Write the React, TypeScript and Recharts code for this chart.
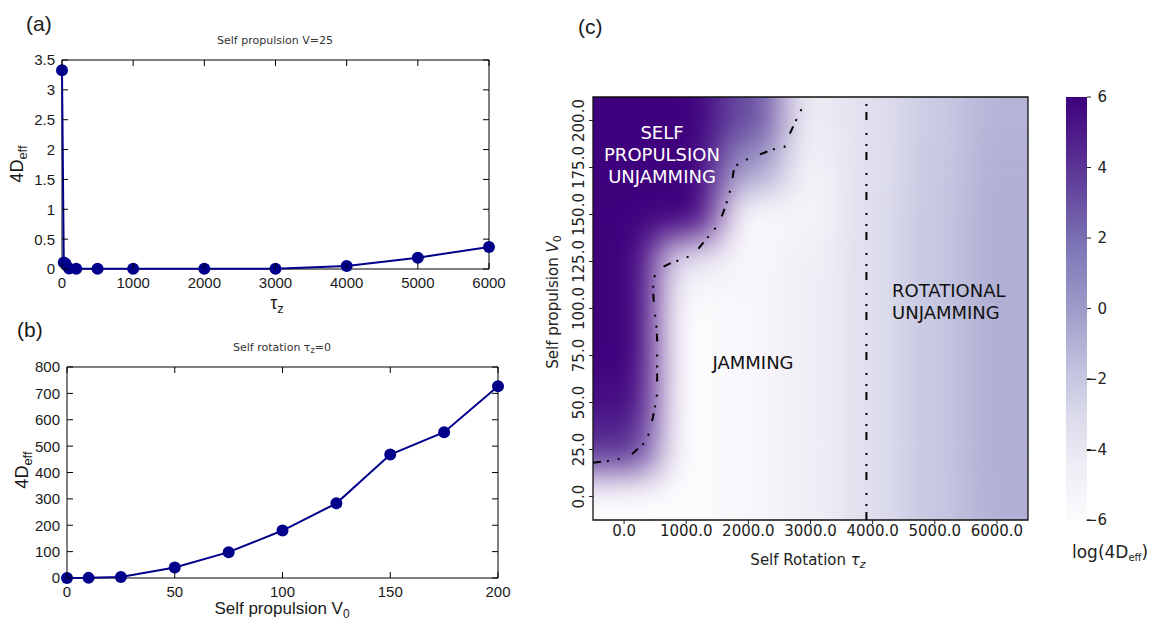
import React from 'react';
import { LineChart, Line, XAxis, YAxis, ReferenceArea, BarChart, Bar } from 'recharts';

// ---------- Panel (a): Self propulsion V=25 ----------
const tauA = [0, 25, 50, 100, 200, 500, 1000, 2000, 3000, 4000, 5000, 6000];
const deffA = [3.33, 0.11, 0.09, 0.01, 0.005, 0.003, 0.003, 0.004, 0.005, 0.05, 0.19, 0.37];
const ticksAX = [0, 1000, 2000, 3000, 4000, 5000, 6000];
const ticksAY = [0, 0.5, 1, 1.5, 2, 2.5, 3, 3.5];

// ---------- Panel (b): Self rotation tau_z = 0 ----------
const v0B = [0, 10, 25, 50, 75, 100, 125, 150, 175, 200];
const deffB = [0, 0.5, 4, 40, 98, 180, 283, 468, 553, 727];
const ticksBX = [0, 50, 100, 150, 200];
const ticksBY = [0, 100, 200, 300, 400, 500, 600, 700, 800];

// ---------- Panel (c): heat map of log(4 D_eff) ----------
const heatTau = [0, 1000, 2000, 3000, 4000, 5000, 6000];
const heatV = [0, 25, 50, 75, 100, 125, 150, 175, 200];
const logDeffV0 = [-6, -6, -5.6, -4.6, -3.3, -2.0, -1.0];
const logDeffV25 = [4, -6, -5.6, -4.6, -3.3, -2.0, -0.9];
const logDeffV50 = [5.5, -6, -5.6, -4.6, -3.3, -2.0, -0.9];
const logDeffV75 = [6, -6, -5.6, -4.6, -3.3, -2.0, -0.9];
const logDeffV100 = [6, -6, -5.6, -4.6, -3.3, -2.0, -0.9];
const logDeffV125 = [6, -4, -5.6, -4.7, -3.3, -2.0, -0.9];
const logDeffV150 = [6, 6, -5.8, -5.2, -3.3, -2.0, -0.9];
const logDeffV175 = [6, 6, 0, -5.0, -3.4, -2.1, -1.0];
const logDeffV200 = [6, 6, 3, -4.4, -3.4, -2.2, -1.1];
const logDeffGrid = [logDeffV0, logDeffV25, logDeffV50, logDeffV75, logDeffV100, logDeffV125, logDeffV150, logDeffV175, logDeffV200];
const heatTicksX = [0, 1000, 2000, 3000, 4000, 5000, 6000];
const heatTicksY = [0, 25, 50, 75, 100, 125, 150, 175, 200];

// jamming boundary (dash-dot contour)
const contourTau = [-500, -274, -85, 140, 318, 408, 463, 505, 532, 532, 532, 532, 516, 484, 470, 468, 532, 742, 968, 1129, 1290, 1452, 1548, 1629, 1694, 1742, 1774, 1952, 2113, 2387, 2581, 2661, 2758, 2855, 2930];
const contourV = [18, 18.8, 20, 22.9, 28.2, 33.9, 41.9, 48.9, 55, 63, 71, 83.5, 93, 99.5, 108, 115, 120.7, 124, 126.6, 129, 135.6, 142, 147, 154, 161, 168.6, 175.5, 179, 181, 184.6, 186, 192.5, 199.5, 206, 212.5];
// rotational unjamming boundary
const rotBoundaryTau = [3900, 3900];
const rotBoundaryV = [-12.5, 212.5];

// colour bar
const cbarRange = [-6, 6];
const cbarTicks = [-6, -4, -2, 0, 2, 4, 6];

const PURPLES = ['#fcfbfd', '#efedf5', '#dadaeb', '#bcbddc', '#9e9ac8', '#807dba', '#6a51a3', '#54278f', '#3f007d'];

function hexToRgb(h: string) {
  return [parseInt(h.slice(1, 3), 16), parseInt(h.slice(3, 5), 16), parseInt(h.slice(5, 7), 16)];
}
function purples(v: number) {
  const t = Math.max(0, Math.min(1, (v - cbarRange[0]) / (cbarRange[1] - cbarRange[0]))) * (PURPLES.length - 1);
  const i = Math.min(PURPLES.length - 2, Math.floor(t));
  const f = t - i;
  const a = hexToRgb(PURPLES[i]);
  const b = hexToRgb(PURPLES[i + 1]);
  const c = a.map((x, k) => Math.round(x + (b[k] - x) * f));
  return `rgb(${c[0]},${c[1]},${c[2]})`;
}

const GP_FONT = 'Liberation Sans, Arial, sans-serif';
const MPL_FONT = 'DejaVu Sans, sans-serif';
const NAVY = '#00008b';
const GP_TICK_LEN = 6;
const GP_GAP_X = 8; // gap between frame and bottom tick labels
const GP_GAP_Y = 7; // gap between frame and left tick labels

// gnuplot-style ticks: short marks pointing into the frame, labels outside
const GpBottomTick = (props: any) => {
  const { x, y, payload } = props;
  const yf = y - GP_GAP_X;
  return (
    <g>
      <line x1={x} x2={x} y1={yf} y2={yf - GP_TICK_LEN} stroke="#000" strokeWidth={1} />
      <text x={x} y={y} dy="0.72em" textAnchor="middle" fontSize={15} fontFamily={GP_FONT} fill="#1a1a1a">{payload.value}</text>
    </g>
  );
};
const GpLeftTick = (props: any) => {
  const { x, y, payload } = props;
  const xf = x + GP_GAP_Y;
  return (
    <g>
      <line x1={xf} x2={xf + GP_TICK_LEN} y1={y} y2={y} stroke="#000" strokeWidth={1} />
      <text x={x} y={y} dy="0.36em" textAnchor="end" fontSize={15} fontFamily={GP_FONT} fill="#1a1a1a">{payload.value}</text>
    </g>
  );
};
const GpTopTick = (props: any) => {
  const { x, y } = props;
  return <line x1={x} x2={x} y1={y} y2={y + GP_TICK_LEN} stroke="#000" strokeWidth={1} />;
};
const GpRightTick = (props: any) => {
  const { x, y } = props;
  return <line x1={x} x2={x - GP_TICK_LEN} y1={y} y2={y} stroke="#000" strokeWidth={1} />;
};

const RotYTick = (props: any) => {
  const { x, y, payload } = props;
  return (
    <text x={x} y={y} transform={`rotate(-90 ${x} ${y})`} textAnchor="middle" fontSize={15} fontFamily={MPL_FONT} fill="#222">
      {Number(payload.value).toFixed(1)}
    </text>
  );
};

const CbarTick = (props: any) => {
  const { x, y, payload } = props;
  const v = Number(payload.value);
  const s = v < 0 ? '\u2212' + Math.abs(v) : String(v);
  return (
    <text x={x} y={y} dy="0.36em" textAnchor="end" fontSize={15} fontFamily={MPL_FONT} fill="#222">
      {s}
    </text>
  );
};

export default function App() {
  const dataA = tauA.map((t, i) => ({ tau: t, d: deffA[i] }));
  const dataB = v0B.map((v, i) => ({ v, d: deffB[i] }));
  const contour = contourTau.map((t, i) => ({ tau: t, v: contourV[i] }));
  const rotLine = rotBoundaryTau.map((t, i) => ({ tau: t, v: rotBoundaryV[i] }));

  const dT = heatTau[1] - heatTau[0];
  const dV = heatV[1] - heatV[0];
  const cells: { key: string; x1: number; x2: number; y1: number; y2: number; fill: string }[] = [];
  const cellPoints: { tau: number; v: number }[] = [];
  heatV.forEach((v, i) => {
    heatTau.forEach((t, j) => {
      let x1 = t - dT / 2;
      let x2 = t + dT / 2;
      let y1 = v - dV / 2;
      let y2 = v + dV / 2;
      // stretch border cells outward so the smoothing has no fade at the frame
      if (j === 0) x1 -= 2 * dT;
      if (j === heatTau.length - 1) x2 += 2 * dT;
      if (i === 0) y1 -= 2 * dV;
      if (i === heatV.length - 1) y2 += 2 * dV;
      cells.push({ key: `${i}-${j}`, x1, x2, y1, y2, fill: purples(logDeffGrid[i][j]) });
      cellPoints.push({ tau: t, v });
    });
  });

  const cbarData = [{ name: 'cb', range: cbarRange }];

  return (
    <div style={{ position: 'absolute', left: 0, top: 0, width: 1153, height: 622, background: '#fff', overflow: 'hidden' }}>
      {/* Panel (c): smoothed heat map layer, clipped to the plot frame */}
      <div style={{ position: 'absolute', left: 593, top: 97, width: 435, height: 423, overflow: 'hidden' }}>
        <div style={{ position: 'absolute', left: -80, top: -80, filter: 'blur(18px)' }}>
          <LineChart width={595} height={583} data={cellPoints} margin={{ top: 80, right: 80, bottom: 80, left: 80 }}>
            <XAxis type="number" dataKey="tau" domain={[-500, 6500]} allowDataOverflow tick={false} tickLine={false} axisLine={false} height={1} />
            <YAxis type="number" domain={[-12.5, 212.5]} allowDataOverflow tick={false} tickLine={false} axisLine={false} width={1} />
            {cells.map((c) => (
              <ReferenceArea key={c.key} x1={c.x1} x2={c.x2} y1={c.y1} y2={c.y2} fill={c.fill} fillOpacity={1}
                stroke="none" ifOverflow="visible" />
            ))}
            <Line dataKey="v" stroke="none" dot={false} isAnimationActive={false} />
          </LineChart>
        </div>
      </div>

      {/* Panel (a) */}
      <div style={{ position: 'absolute', left: 0, top: 0 }}>
        <LineChart width={520} height={310} data={dataA} margin={{ top: 59, right: 30, bottom: 0, left: 0 }}>
          <XAxis dataKey="tau" type="number" domain={[0, 6000]} ticks={ticksAX} interval={0} height={41}
            tickSize={0} tickMargin={GP_GAP_X} axisLine={false} tickLine={false} tick={<GpBottomTick />} />
          <XAxis xAxisId="top" dataKey="tau" orientation="top" type="number" domain={[0, 6000]} allowDataOverflow ticks={ticksAX} interval={0} height={1}
            tickSize={0} tickMargin={0} tick={<GpTopTick />} axisLine={false} tickLine={false} />
          <YAxis type="number" domain={[0, 3.5]} ticks={ticksAY} interval={0} width={62}
            tickSize={0} tickMargin={GP_GAP_Y} axisLine={false} tickLine={false} tick={<GpLeftTick />} />
          <YAxis yAxisId="right" orientation="right" type="number" domain={[0, 3.5]} allowDataOverflow ticks={ticksAY} interval={0} width={1}
            tickSize={0} tickMargin={0} tick={<GpRightTick />} axisLine={false} tickLine={false} />
          <ReferenceArea x1={0} x2={6000} y1={0} y2={3.5} fill="none" fillOpacity={0} stroke="#000" strokeWidth={1} />
          <Line xAxisId="top" yAxisId="right" dataKey="d" stroke="none" dot={false} isAnimationActive={false} />
          <Line dataKey="d" stroke={NAVY} strokeWidth={2} isAnimationActive={false}
            dot={{ r: 6, fill: NAVY, stroke: NAVY, strokeWidth: 0 }} />
        </LineChart>
      </div>

      {/* Panel (b) */}
      <div style={{ position: 'absolute', left: 0, top: 300 }}>
        <LineChart width={530} height={322} data={dataB} margin={{ top: 66, right: 31, bottom: 0, left: 0 }}>
          <XAxis dataKey="v" type="number" domain={[0, 200]} ticks={ticksBX} interval={0} height={44}
            tickSize={0} tickMargin={GP_GAP_X} axisLine={false} tickLine={false} tick={<GpBottomTick />} />
          <XAxis xAxisId="top" dataKey="v" orientation="top" type="number" domain={[0, 200]} allowDataOverflow ticks={ticksBX} interval={0} height={1}
            tickSize={0} tickMargin={0} tick={<GpTopTick />} axisLine={false} tickLine={false} />
          <YAxis type="number" domain={[0, 800]} ticks={ticksBY} interval={0} width={67}
            tickSize={0} tickMargin={GP_GAP_Y} axisLine={false} tickLine={false} tick={<GpLeftTick />} />
          <YAxis yAxisId="right" orientation="right" type="number" domain={[0, 800]} allowDataOverflow ticks={ticksBY} interval={0} width={1}
            tickSize={0} tickMargin={0} tick={<GpRightTick />} axisLine={false} tickLine={false} />
          <ReferenceArea x1={0} x2={200} y1={0} y2={800} fill="none" fillOpacity={0} stroke="#000" strokeWidth={1} />
          <Line xAxisId="top" yAxisId="right" dataKey="d" stroke="none" dot={false} isAnimationActive={false} />
          <Line dataKey="d" stroke={NAVY} strokeWidth={2} isAnimationActive={false}
            dot={{ r: 6, fill: NAVY, stroke: NAVY, strokeWidth: 0 }} />
        </LineChart>
      </div>

      {/* Panel (c): axes, frame and boundaries */}
      <div style={{ position: 'absolute', left: 540, top: 60 }}>
        <LineChart width={500} height={520} margin={{ top: 37, right: 12, bottom: 0, left: 0 }}>
          <XAxis type="number" dataKey="tau" domain={[-500, 6500]} ticks={heatTicksX} interval={0} height={60}
            allowDataOverflow tickSize={4} tickMargin={1} axisLine={false}
            tickLine={{ stroke: '#222', strokeWidth: 1 }}
            tick={{ fill: '#222', fontSize: 15, fontFamily: MPL_FONT }}
            tickFormatter={(v: number) => v.toFixed(1)} />
          <YAxis type="number" dataKey="v" domain={[-12.5, 212.5]} ticks={heatTicksY} interval={0} width={53}
            allowDataOverflow tickSize={4} tickMargin={5} axisLine={false}
            tickLine={{ stroke: '#222', strokeWidth: 1 }} tick={<RotYTick />} />
          <Line data={contour} dataKey="v" stroke="#000" strokeWidth={2} strokeDasharray="8 6 2 9 2 13"
            dot={false} isAnimationActive={false} />
          <Line data={rotLine} dataKey="v" stroke="#000" strokeWidth={2} strokeDasharray="8 6 2 9 2 13"
            dot={false} isAnimationActive={false} />
          <ReferenceArea x1={-500} x2={6500} y1={-12.5} y2={212.5} fill="none" fillOpacity={0} stroke="#111" strokeWidth={1.3} />
        </LineChart>
      </div>

      {/* Colour bar */}
      <div style={{ position: 'absolute', left: 1040, top: 60 }}>
        <BarChart width={113} height={520} data={cbarData} margin={{ top: 37, right: 0, bottom: 60, left: 26 }} barCategoryGap={0}>
          <defs>
            <linearGradient id="cbarGrad" x1="0" y1="1" x2="0" y2="0">
              {PURPLES.map((c, i) => (
                <stop key={c} offset={`${(i / (PURPLES.length - 1)) * 100}%`} stopColor={c} />
              ))}
            </linearGradient>
          </defs>
          <XAxis dataKey="name" hide height={0} />
          <YAxis orientation="right" type="number" domain={cbarRange} ticks={cbarTicks} interval={0} width={66}
            tickSize={4} tickMargin={16} axisLine={false} tickLine={{ stroke: '#222', strokeWidth: 1 }} tick={<CbarTick />} />
          <Bar dataKey="range" fill="url(#cbarGrad)" isAnimationActive={false} />
        </BarChart>
      </div>

      {/* Text annotations */}
      <svg width={1153} height={622} style={{ position: 'absolute', left: 0, top: 0, pointerEvents: 'none' }}>
        <g fontFamily={GP_FONT} fill="#1a1a1a">
          <text x={26} y={31} fontSize={21}>(a)</text>
          <text x={17} y={337} fontSize={21}>(b)</text>
          <text x={578} y={34} fontSize={21}>(c)</text>
        </g>
        <g fontFamily={MPL_FONT} fill="#333" fontSize={11} textAnchor="middle">
          <text x={275} y={44}>Self propulsion V=25</text>
          <text x={282} y={351}>Self rotation τ<tspan fontSize={8} dy={2}>z</tspan><tspan dy={-2}>=0</tspan></text>
        </g>
        <g fontFamily={GP_FONT} fill="#1a1a1a" fontSize={18}>
          <text x={23} y={164} transform="rotate(-90 23 164)" textAnchor="middle">4D<tspan fontSize={13} dy={4}>eff</tspan></text>
          <text x={28} y={470} transform="rotate(-90 28 470)" textAnchor="middle">4D<tspan fontSize={13} dy={4}>eff</tspan></text>
          <text x={277} y={309} textAnchor="middle">τ<tspan fontSize={13} dy={4}>z</tspan></text>
          <text x={282} y={614} textAnchor="middle" fontSize={17}>Self propulsion V<tspan fontSize={12} dy={4}>0</tspan></text>
        </g>
        <g fontFamily={MPL_FONT} fill="#222" fontSize={15}>
          <text x={808} y={565} textAnchor="middle">Self Rotation <tspan fontStyle="italic">τ</tspan><tspan fontStyle="italic" fontSize={11} dy={3}>z</tspan></text>
          <text x={558} y={302} transform="rotate(-90 558 302)" textAnchor="middle">Self propulsion <tspan fontStyle="italic">V</tspan><tspan fontSize={11} dy={3}>0</tspan></text>
          <text x={1072} y={558} fontSize={17}>log(4D<tspan fontSize={10} dy={3}>eff</tspan><tspan dy={-3}>)</tspan></text>
        </g>
        <g fontFamily={MPL_FONT} fontSize={18} textAnchor="middle" fill="#fff">
          <text x={662} y={139}>SELF</text>
          <text x={662} y={161}>PROPULSION</text>
          <text x={662} y={183}>UNJAMMING</text>
        </g>
        <g fontFamily={MPL_FONT} fontSize={18} fill="#111">
          <text x={753} y={369} textAnchor="middle">JAMMING</text>
          <text x={892} y={297}>ROTATIONAL</text>
          <text x={892} y={319}>UNJAMMING</text>
        </g>
      </svg>
    </div>
  );
}
